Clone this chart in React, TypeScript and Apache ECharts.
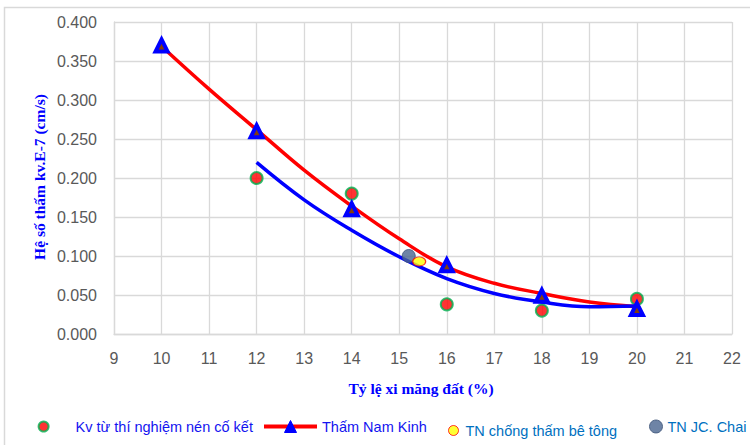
import React, { useEffect, useRef } from "react";
import * as echarts from "echarts";

// Data
const kvX = [12, 14, 16, 18, 20];
const kvY = [0.2, 0.18, 0.038, 0.03, 0.045];

const namKinhX = [10, 12, 14, 16, 18, 20];
const namKinhY = [0.37, 0.26, 0.16, 0.088, 0.049, 0.032];

// Trend line of "Thấm Nam Kinh" (red)
const redTrendX = [10, 11, 12, 13, 14, 15, 16, 17, 18, 19, 20];
const redTrendY = [0.369, 0.314, 0.262, 0.21, 0.164, 0.122, 0.086, 0.065, 0.052, 0.041, 0.035];

// Trend line of "Kv từ thí nghiệm nén cố kết" (blue)
const blueTrendX = [12, 13, 14, 15, 16, 17, 18, 19, 20];
const blueTrendY = [0.22, 0.172, 0.133, 0.099, 0.071, 0.052, 0.041, 0.035, 0.036];

const betongX = [15.42];
const betongY = [0.093];

const chaiX = [15.2];
const chaiY = [0.1];

const seriesNames = [
  "Kv từ thí nghiệm nén cố kết",
  "Thấm Nam Kinh",
  "TN chống thấm bê tông",
  "TN JC. Chai",
];
const xAxisName = "Tỷ lệ xi măng đất (%)";
const yAxisName = "Hệ số thấm kv.E-7 (cm/s)";

const pairs = (xs: number[], ys: number[]) => xs.map((x, i) => [x, ys[i]]);

export default function App() {
  const ref = useRef<HTMLDivElement>(null);

  useEffect(() => {
    if (!ref.current) return;
    const chart = echarts.init(ref.current, undefined, { renderer: "svg" });
    const tickFont = {
      fontFamily: "'Liberation Sans', Arial, sans-serif",
      fontSize: 16,
      color: "#595959",
    };
    const legendFont = {
      fontFamily: "'Liberation Sans', Arial, sans-serif",
      fontSize: 14.5,
    };
    const gridColor = "#d9d9d9";
    chart.setOption({
      animation: false,
      backgroundColor: "#ffffff",
      grid: { left: 114, top: 22, right: 18, bottom: 111, containLabel: false },
      xAxis: {
        type: "value",
        min: 9,
        max: 22,
        interval: 1,
        axisLine: { show: true, lineStyle: { color: gridColor, width: 1.3 } },
        axisTick: { show: false },
        splitLine: { show: true, lineStyle: { color: gridColor, width: 1.3 } },
        axisLabel: { ...tickFont, margin: 16 },
      },
      yAxis: {
        type: "value",
        min: 0,
        max: 0.4,
        interval: 0.05,
        axisLine: { show: true, lineStyle: { color: gridColor, width: 1.3 } },
        axisTick: { show: false },
        splitLine: { show: true, lineStyle: { color: gridColor, width: 1.3 } },
        axisLabel: {
          ...tickFont,
          margin: 17,
          formatter: (v: number) => v.toFixed(3),
        },
      },
      legend: [
        {
          left: 37.6,
          top: 419,
          padding: 0,
          itemWidth: 10,
          itemHeight: 10,
          selectedMode: false,
          data: [
            {
              name: seriesNames[0],
              itemStyle: { color: "#ff0000", borderColor: "#00b050", borderWidth: 2 },
            },
          ],
          textStyle: { ...legendFont, color: "#1414f0", padding: [0, 0, 0, 22] },
        },
        {
          left: 262,
          top: 419,
          padding: 0,
          itemWidth: 53,
          itemHeight: 15,
          selectedMode: false,
          data: [
            {
              name: seriesNames[1],
              itemStyle: { color: "#0000ff", borderColor: "#0000ff", borderWidth: 1 },
              lineStyle: { color: "#ff0000", width: 4, opacity: 1 },
            },
          ],
          textStyle: { ...legendFont, color: "#1414f0" },
        },
        {
          left: 448,
          top: 423,
          padding: 0,
          itemWidth: 14,
          itemHeight: 10,
          symbolKeepAspect: false,
          selectedMode: false,
          data: [
            {
              name: seriesNames[2],
              itemStyle: { color: "#ffff00", borderColor: "#ff0000", borderWidth: 1 },
            },
          ],
          textStyle: { ...legendFont, color: "#0070c0" },
        },
        {
          left: 649,
          top: 419,
          padding: 0,
          itemWidth: 13,
          itemHeight: 13,
          selectedMode: false,
          data: [
            {
              name: seriesNames[3],
              itemStyle: { color: "#4a6590", borderColor: "#3d5478", borderWidth: 1 },
            },
          ],
          textStyle: { ...legendFont, color: "#0070c0" },
        },
      ],
      graphic: [
        {
          type: "rect",
          silent: true,
          shape: { x: 4.5, y: 7.5, width: 800, height: 500 },
          style: { fill: "none", stroke: "#d9d9d9", lineWidth: 1.5 },
          z: -10,
        },
        {
          type: "text",
          x: 421,
          y: 388,
          style: {
            text: xAxisName,
            fontFamily: "'Liberation Serif', 'Times New Roman', serif",
            fontWeight: "bold",
            fontSize: 15.5,
            fill: "#0000ff",
            align: "center",
            verticalAlign: "middle",
          },
        },
        {
          type: "text",
          x: 39,
          y: 177,
          rotation: Math.PI / 2,
          style: {
            text: yAxisName,
            fontFamily: "'Liberation Serif', 'Times New Roman', serif",
            fontWeight: "bold",
            fontSize: 15.5,
            fill: "#0000ff",
            align: "center",
            verticalAlign: "middle",
          },
        },
      ],
      series: [
        {
          name: seriesNames[0],
          type: "scatter",
          data: pairs(kvX, kvY),
          symbol: "circle",
          symbolSize: 12,
          itemStyle: { color: "#ff0000", borderColor: "#00b050", borderWidth: 2 },
          z: 2,
        },
        {
          name: "redTrend",
          type: "line",
          data: pairs(redTrendX, redTrendY),
          smooth: 0.4,
          symbol: "none",
          lineStyle: { color: "#ff0000", width: 3.5 },
          silent: true,
          z: 3,
        },
        {
          name: "blueTrend",
          type: "line",
          data: pairs(blueTrendX, blueTrendY),
          smooth: 0.4,
          symbol: "none",
          lineStyle: { color: "#0000ff", width: 3.5 },
          silent: true,
          z: 3,
        },
        {
          name: seriesNames[1],
          type: "line",
          data: pairs(namKinhX, namKinhY),
          symbol: "triangle",
          symbolSize: 12,
          showSymbol: true,
          lineStyle: { opacity: 0, width: 0 },
          itemStyle: { color: "#843c0c", borderColor: "#0000ff", borderWidth: 4 },
          z: 4,
        },
        {
          name: seriesNames[3],
          type: "scatter",
          data: pairs(chaiX, chaiY),
          symbol: "circle",
          symbolSize: 13,
          itemStyle: { color: "#4a6590", borderColor: "#3d5478", borderWidth: 1 },
          z: 5,
        },
        {
          name: seriesNames[2],
          type: "scatter",
          data: pairs(betongX, betongY),
          symbol: "circle",
          symbolSize: [13, 9],
          itemStyle: { color: "#ffff00", borderColor: "#ff0000", borderWidth: 1 },
          z: 6,
        },
      ],
    });
    return () => chart.dispose();
  }, []);

  return (
    <div
      ref={ref}
      style={{ position: "absolute", left: 0, top: 0, width: 750, height: 445 }}
    />
  );
}
